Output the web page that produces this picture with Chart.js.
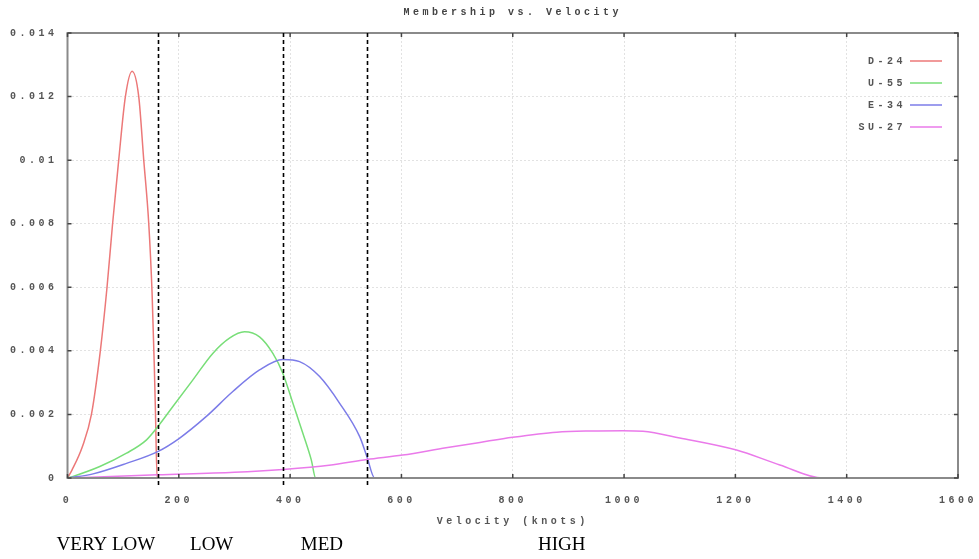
<!DOCTYPE html>
<html>
<head>
<meta charset="utf-8">
<script src="https://cdn.jsdelivr.net/npm/chart.js@4"></script>
<style>
  html, body { margin: 0; padding: 0; background: #fff; }
  #wrap { width: 979px; height: 559px; }
</style>
</head>
<body>
<div id="wrap"><canvas id="chart"></canvas></div>
<script>
// series data (knots -> membership)
const d24Knots = [0, 8, 27, 43, 59, 71, 81, 92, 104, 116, 128, 137, 146, 152, 156, 158, 161, 1480];
const d24Values = [0, 0.00025, 0.001, 0.002, 0.004, 0.006, 0.008, 0.010, 0.012, 0.0128, 0.012, 0.010, 0.008, 0.0058, 0.0035, 0.0021, 0, 0];

const u55Knots = [0, 10, 58, 106, 142, 162, 189, 225, 261, 291, 318, 345, 369, 387, 405, 423, 438, 446, 1480];
const u55Values = [0, 0.00005, 0.00036, 0.00078, 0.0012, 0.00161, 0.00224, 0.00308, 0.00392, 0.0044, 0.0046, 0.00444, 0.00392, 0.00329, 0.00235, 0.0014, 0.00057, 0, 0];

const e34Knots = [0, 46, 106, 162, 201, 249, 297, 345, 387, 417, 453, 489, 525, 538, 552, 1480];
const e34Values = [0, 0.00013, 0.00046, 0.00083, 0.00125, 0.00193, 0.00272, 0.0034, 0.00373, 0.00366, 0.00319, 0.00235, 0.0013, 0.00067, 0, 0];

const su27Knots = [0, 162, 300, 387, 470, 538, 602, 680, 741, 800, 879, 940, 998, 1034, 1100, 1202, 1280, 1357, 1480];
const su27Values = [0, 0.0001, 0.00018, 0.00027, 0.0004, 0.00058, 0.00072, 0.00095, 0.00112, 0.00128, 0.00144, 0.00148, 0.00149, 0.00147, 0.00126, 0.00088, 0.00041, 0, 0];

const seriesNames = ['D-24', 'U-55', 'E-34', 'SU-27'];
const seriesColors = ['rgb(236,120,120)', 'rgb(120,222,120)', 'rgb(124,124,232)', 'rgb(234,122,234)'];

const xTickLabels = ['0', '200', '400', '600', '800', '1000', '1200', '1400', '1600'];
const yTickLabels = ['0', '0.002', '0.004', '0.006', '0.008', '0.01', '0.012', '0.014'];

// zone boundaries (dashed lines) and where each zone name sits, in knots
const zoneBounds = [162, 387, 538];
const zoneLabels = ['VERY LOW', 'LOW', 'MED', 'HIGH'];
const zoneCenters = [69, 259, 457, 888];

const toPoints = (xs, ys) => xs.map((x, i) => ({ x: x, y: ys[i] }));
const allSeries = [
    toPoints(d24Knots, d24Values),
    toPoints(u55Knots, u55Values),
    toPoints(e34Knots, e34Values),
    toPoints(su27Knots, su27Values)
];

const smallFont = { family: 'Liberation Mono', size: 10, weight: 'bold' };
const smallColor = '#555';
const spacing = '3.5px';

// gnuplot-ish frame, inward ticks, zone lines and legend
const decorations = {
    id: 'decorations',
    beforeLayout(chart) { chart.ctx.letterSpacing = spacing; },
    beforeDraw(chart) { chart.ctx.letterSpacing = spacing; },
    afterDatasetsDraw(chart) {
        const ctx = chart.ctx;
        const a = chart.chartArea;
        const xs = chart.scales.x, ys = chart.scales.y;
        ctx.save();
        ctx.strokeStyle = '#8a8a8a';
        ctx.lineWidth = 2;
        ctx.strokeRect(a.left, a.top, a.right - a.left, a.bottom - a.top);
        ctx.strokeStyle = '#444';
        ctx.lineWidth = 1.5;
        ctx.beginPath();
        xs.ticks.forEach(t => {
            const px = xs.getPixelForValue(t.value);
            ctx.moveTo(px, a.bottom); ctx.lineTo(px, a.bottom - 4);
            ctx.moveTo(px, a.top); ctx.lineTo(px, a.top + 4);
        });
        ys.ticks.forEach(t => {
            const py = ys.getPixelForValue(t.value);
            ctx.moveTo(a.left, py); ctx.lineTo(a.left + 4, py);
            ctx.moveTo(a.right, py); ctx.lineTo(a.right - 4, py);
        });
        ctx.stroke();
        ctx.restore();
        ctx.letterSpacing = '0px';
    },
    afterDraw(chart) {
        const ctx = chart.ctx;
        const a = chart.chartArea;
        const xs = chart.scales.x;
        ctx.save();
        ctx.strokeStyle = '#000';
        ctx.lineWidth = 1.6;
        ctx.setLineDash([4, 3]);
        zoneBounds.forEach(v => {
            const px = Math.round(xs.getPixelForValue(v)) + 0.5;
            ctx.beginPath();
            ctx.moveTo(px, a.top);
            ctx.lineTo(px, a.bottom + 9);
            ctx.stroke();
        });
        ctx.setLineDash([]);

        ctx.letterSpacing = spacing;
        ctx.font = 'bold 10px "Liberation Mono"';
        ctx.fillStyle = smallColor;
        ctx.textAlign = 'right';
        ctx.textBaseline = 'middle';
        chart.data.datasets.forEach((ds, i) => {
            const y = a.top + 28 + i * 22;
            ctx.fillText(ds.label, a.right - 52, y);
            ctx.strokeStyle = ds.borderColor;
            ctx.lineWidth = 1.5;
            ctx.beginPath();
            ctx.moveTo(a.right - 48, y);
            ctx.lineTo(a.right - 16, y);
            ctx.stroke();
        });
        ctx.restore();
    }
};

document.addEventListener('DOMContentLoaded', () => {
    const ctx = document.getElementById('chart').getContext('2d');
    new Chart(ctx, {
        type: 'line',
        data: {
            datasets: allSeries.map((pts, i) => ({
                label: seriesNames[i],
                data: pts,
                borderColor: seriesColors[i],
                backgroundColor: seriesColors[i],
                borderWidth: 1.5,
                pointRadius: 0,
                fill: false,
                cubicInterpolationMode: 'monotone',
                order: seriesNames.length - i
            }))
        },
        options: {
            responsive: true,
            maintainAspectRatio: false,
            animation: false,
            layout: { padding: { left: 0, right: 0, top: 0, bottom: 0 } },
            plugins: {
                legend: { display: false },
                tooltip: { enabled: false },
                title: {
                    display: true,
                    text: 'Membership vs. Velocity',
                    fullSize: false,
                    color: '#444',
                    font: smallFont,
                    padding: { top: 6, bottom: 15 }
                }
            },
            scales: {
                x: {
                    type: 'linear',
                    min: 0,
                    max: 1600,
                    weight: 0,
                    grid: { color: '#e2e2e2', drawTicks: false },
                    border: { display: false, dash: [2, 2] },
                    afterFit: scale => {
                        scale.height = 51;
                        scale.paddingLeft = 0;
                        scale.paddingRight = 21;
                    },
                    ticks: {
                        stepSize: 200,
                        padding: 16,
                        maxRotation: 0,
                        color: smallColor,
                        font: smallFont,
                        callback: (v, i) => xTickLabels[i]
                    },
                    title: {
                        display: true,
                        text: 'Velocity (knots)',
                        color: smallColor,
                        font: smallFont,
                        padding: { top: 0, bottom: 2 }
                    }
                },
                zones: {
                    type: 'linear',
                    position: 'bottom',
                    min: 0,
                    max: 1600,
                    weight: 1,
                    grid: { display: false, drawTicks: false },
                    border: { display: false },
                    afterBuildTicks: scale => {
                        scale.ticks = zoneCenters.map(v => ({ value: v }));
                    },
                    afterFit: scale => {
                        scale.height = 30;
                        scale.paddingLeft = 0;
                        scale.paddingRight = 0;
                    },
                    ticks: {
                        z: 1,
                        autoSkip: false,
                        maxRotation: 0,
                        padding: 5,
                        color: '#000',
                        font: { family: 'Liberation Serif', size: 19 },
                        callback: (v, i) => zoneLabels[i]
                    }
                },
                y: {
                    min: 0,
                    max: 0.014,
                    grid: { color: '#e2e2e2', drawTicks: false },
                    border: { display: false, dash: [2, 2] },
                    ticks: {
                        stepSize: 0.002,
                        padding: 10,
                        color: smallColor,
                        font: smallFont,
                        callback: (v, i) => yTickLabels[i]
                    }
                }
            }
        },
        plugins: [decorations]
    });
});
</script>
</body>
</html>
